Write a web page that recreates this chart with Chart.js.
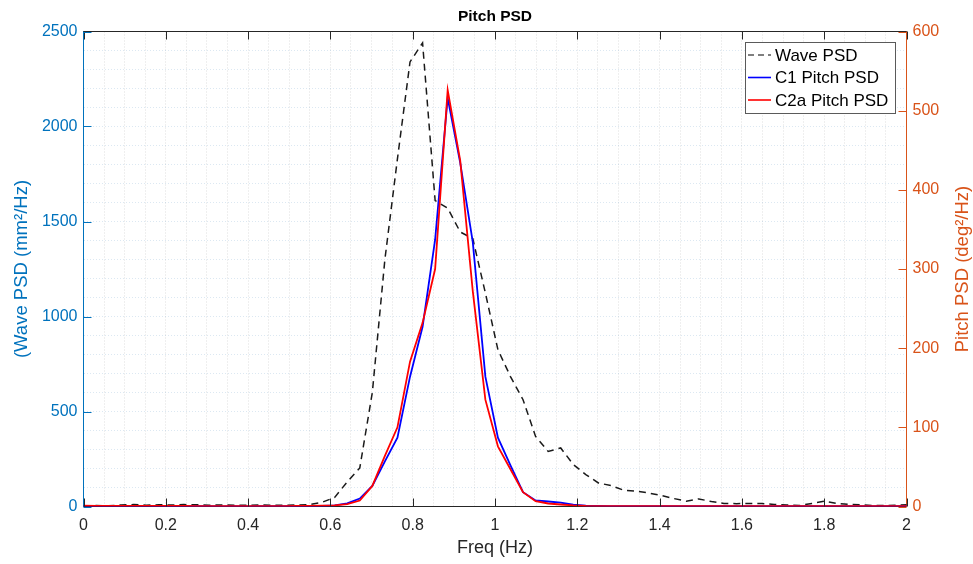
<!DOCTYPE html>
<html>
<head>
<meta charset="utf-8">
<script src="https://cdn.jsdelivr.net/npm/chart.js@4/dist/chart.umd.min.js"></script>
<style>
html,body{margin:0;padding:0;background:#ffffff;}
#wrap{width:973px;height:564px;position:relative;}
</style>
</head>
<body>
<div id="wrap"><canvas id="c" width="973" height="564"></canvas></div>
<script>
// ---------- data ----------
const freq = [0,0.0305,0.0610,0.0916,0.1221,0.1526,0.1831,0.2136,0.2441,0.2747,
  0.3052,0.3357,0.3662,0.3967,0.4272,0.4578,0.4883,0.5188,0.5493,0.5798,
  0.6104,0.6409,0.6714,0.7019,0.7324,0.7629,0.7935,0.8240,0.8545,0.8850,
  0.9155,0.9460,0.9766,1.0071,1.0376,1.0681,1.0986,1.1292,1.1597,1.1902,
  1.2207,1.2512,1.2817,1.3123,1.3428,1.3733,1.4038,1.4343,1.4648,1.4954,
  1.5259,1.5564,1.5869,1.6174,1.6479,1.6785,1.7090,1.7395,1.7700,1.8005,
  1.8311,1.8616,1.8921,1.9226,1.9531,1.9836,2.0142];

const wavePSD = [3,5,4,8,10,7,9,8,10,9,
  7,8,7,6,8,7,6,8,10,22,
  48,130,203,600,1300,1830,2340,2440,1610,1570,
  1445,1410,1124,825,684,562,369,290,308,221,
  168,124,110,86,81,71,58,42,28,40,
  26,16,15,16,16,11,8,5,16,28,
  16,11,8,5,5,8,11];

const c1PitchPSD = [0.8,0.6,0.5,0.4,0.5,0.4,0.3,0.4,0.3,0.3,
  0.3,0.2,0.3,0.2,0.3,0.3,0.3,0.4,0.5,0.8,
  1.5,4,10,26,57,87,164,227,337,516,
  434,334,164,87,52,18,7.6,6.3,5,2.2,
  1.2,0.8,0.6,0.5,0.4,0.4,0.3,0.3,0.3,0.3,
  0.3,0.3,0.3,0.3,0.3,0.3,0.3,0.3,0.3,0.3,
  0.3,0.3,0.3,0.3,0.3,0.3,0.3];

const c2aPitchPSD = [1,0.9,0.8,0.8,0.8,0.7,0.7,0.7,0.7,0.6,
  0.6,0.6,0.6,0.6,0.6,0.6,0.6,0.7,0.8,1,
  1.5,3,7.5,26,64,100,183,232,300,526,
  437,272,135,76,47,18,6.7,3.8,2.5,1.3,
  0.7,0.5,0.5,0.4,0.4,0.4,0.4,0.4,0.4,0.4,
  0.4,0.4,0.4,0.4,0.4,0.4,0.4,0.4,0.4,0.4,
  0.4,0.4,0.4,0.4,0.4,0.4,0.4];

const seriesLabels = ['Wave PSD', 'C1 Pitch PSD', 'C2a Pitch PSD'];

const xTickValues = [0,0.2,0.4,0.6,0.8,1,1.2,1.4,1.6,1.8,2];
const xTickLabels = ['0','0.2','0.4','0.6','0.8','1','1.2','1.4','1.6','1.8','2'];
const leftTickValues = [0,500,1000,1500,2000,2500];
const leftTickLabels = ['0','500','1000','1500','2000','2500'];
const rightTickValues = [0,100,200,300,400,500,600];
const rightTickLabels = ['0','100','200','300','400','500','600'];

const titleText = 'Pitch PSD';
const xTitle = 'Freq (Hz)';
const leftTitle = '(Wave PSD (mm\u00B2/Hz)';
const rightTitle = 'Pitch PSD (deg\u00B2/Hz)';

// ---------- styles ----------
const FONT = "'Liberation Sans', Arial, Helvetica, sans-serif";
const BLUE_AX = '#0072BD';
const ORANGE_AX = '#D95319';
const DARK = '#262626';

function pts(ys) { return freq.map((f, i) => ({x: f, y: ys[i]})); }
function labelFor(v, vals, labs) {
  for (let i = 0; i < vals.length; i++) {
    if (Math.abs(v - vals[i]) < 1e-6) return labs[i];
  }
  return '';
}

const datasets = [
  {label: seriesLabels[0], data: pts(wavePSD), yAxisID: 'y', borderColor: '#1a1a1a',
   borderWidth: 1.5, borderDash: [7, 5], pointRadius: 0, tension: 0, order: 2},
  {label: seriesLabels[1], data: pts(c1PitchPSD), yAxisID: 'y2', borderColor: '#0000FF',
   borderWidth: 1.8, pointRadius: 0, tension: 0, order: 1},
  {label: seriesLabels[2], data: pts(c2aPitchPSD), yAxisID: 'y2', borderColor: '#FF0000',
   borderWidth: 1.8, pointRadius: 0, tension: 0, order: 0}
];

const framePlugin = {
  id: 'frame',
  afterDatasetsDraw(chart) {
    const {ctx, chartArea: a, scales} = chart;
    const x = scales.x, y = scales.y, y2 = scales.y2;
    ctx.save();
    ctx.lineWidth = 1;
    ctx.setLineDash([]);
    ctx.strokeStyle = DARK;
    ctx.beginPath(); ctx.moveTo(a.left, a.top); ctx.lineTo(a.right, a.top); ctx.stroke();
    xTickValues.forEach(v => {
      const px = Math.round(x.getPixelForValue(v)) + 0.5;
      ctx.beginPath();
      ctx.moveTo(px, a.bottom); ctx.lineTo(px, a.bottom - 8);
      ctx.moveTo(px, a.top); ctx.lineTo(px, a.top + 8);
      ctx.stroke();
    });
    ctx.strokeStyle = BLUE_AX;
    leftTickValues.forEach(v => {
      const py = Math.round(y.getPixelForValue(v)) + 0.5;
      ctx.beginPath(); ctx.moveTo(a.left, py); ctx.lineTo(a.left + 8, py); ctx.stroke();
    });
    ctx.strokeStyle = ORANGE_AX;
    rightTickValues.forEach(v => {
      const py = Math.round(y2.getPixelForValue(v)) + 0.5;
      ctx.beginPath(); ctx.moveTo(a.right, py); ctx.lineTo(a.right - 8, py); ctx.stroke();
    });
    ctx.restore();
  },
  afterDraw(chart) {
    const {ctx, chartArea: a} = chart;
    ctx.save();
    ctx.translate(963, (a.top + a.bottom) / 2);
    ctx.rotate(-Math.PI / 2);
    ctx.fillStyle = ORANGE_AX;
    ctx.font = '18.5px ' + FONT;
    ctx.textAlign = 'center';
    ctx.textBaseline = 'middle';
    ctx.fillText(rightTitle, 0, 0);
    ctx.restore();

    const L = 745.5, T = 42.5, R = 895.5, B = 113.5;
    ctx.save();
    ctx.fillStyle = '#ffffff';
    ctx.fillRect(L, T, R - L, B - T);
    ctx.strokeStyle = '#5a5a5a';
    ctx.lineWidth = 1;
    ctx.strokeRect(L, T, R - L, B - T);
    const rows = [55, 77.5, 100];
    chart.data.datasets.forEach((ds, i) => {
      const yy = rows[i];
      ctx.strokeStyle = i === 0 ? '#555555' : ds.borderColor;
      ctx.lineWidth = i === 0 ? 1.5 : 1.6;
      ctx.setLineDash(i === 0 ? [6, 4] : []);
      ctx.beginPath(); ctx.moveTo(748, yy); ctx.lineTo(771, yy); ctx.stroke();
      ctx.setLineDash([]);
      ctx.fillStyle = '#000000';
      ctx.font = '17px ' + FONT;
      ctx.textAlign = 'left';
      ctx.textBaseline = 'middle';
      ctx.fillText(ds.label, 775, yy + 1);
    });
    ctx.restore();
  }
};

new Chart(document.getElementById('c'), {
  type: 'line',
  data: {datasets},
  options: {
    responsive: false,
    animation: false,
    devicePixelRatio: 1,
    layout: {padding: 0},
    plugins: {
      legend: {display: false},
      tooltip: {enabled: false},
      title: {
        display: true, text: titleText, fullSize: false, color: '#000000',
        font: {family: FONT, size: 15.5, weight: 'bold'},
        padding: {top: 7.7, bottom: 5.2}
      }
    },
    scales: {
      x: {
        type: 'linear', position: 'bottom', min: 0, max: 2,
        ticks: {
          stepSize: 0.05, maxTicksLimit: 1000, autoSkip: false, maxRotation: 0, minRotation: 0,
          padding: 9, color: DARK, font: {family: FONT, size: 16},
          callback: v => labelFor(v, xTickValues, xTickLabels)
        },
        grid: {color: 'rgba(0,0,0,0.13)', lineWidth: 1, drawTicks: false, tickLength: 0},
        border: {display: true, color: DARK, width: 1, dash: [1, 2]},
        title: {display: true, text: xTitle, color: DARK, font: {family: FONT, size: 18},
                padding: {top: 0, bottom: 5}},
        afterFit: s => { s.height = 57.5; }
      },
      y: {
        type: 'linear', position: 'left', min: 0, max: 2500,
        ticks: {
          stepSize: 100, maxTicksLimit: 1000, autoSkip: false, padding: 6,
          color: BLUE_AX, font: {family: FONT, size: 16},
          callback: v => labelFor(v, leftTickValues, leftTickLabels)
        },
        grid: {color: 'rgba(80,140,190,0.2)', lineWidth: 1, drawTicks: false, tickLength: 0},
        border: {display: true, color: BLUE_AX, width: 1, dash: [1, 2]},
        title: {display: true, text: leftTitle, color: BLUE_AX, font: {family: FONT, size: 18.5},
                padding: {top: 10.5, bottom: 0}},
        afterFit: s => { s.width = 83.5; }
      },
      y2: {
        type: 'linear', position: 'right', min: 0, max: 600,
        ticks: {
          stepSize: 100, maxTicksLimit: 1000, autoSkip: false, padding: 6,
          color: ORANGE_AX, font: {family: FONT, size: 16},
          callback: v => labelFor(v, rightTickValues, rightTickLabels)
        },
        grid: {display: false, drawOnChartArea: false, drawTicks: false, tickLength: 0},
        border: {display: true, color: ORANGE_AX, width: 1},
        title: {display: false},
        afterFit: s => { s.width = 66.5; }
      }
    }
  },
  plugins: [framePlugin]
});
</script>
</body>
</html>
